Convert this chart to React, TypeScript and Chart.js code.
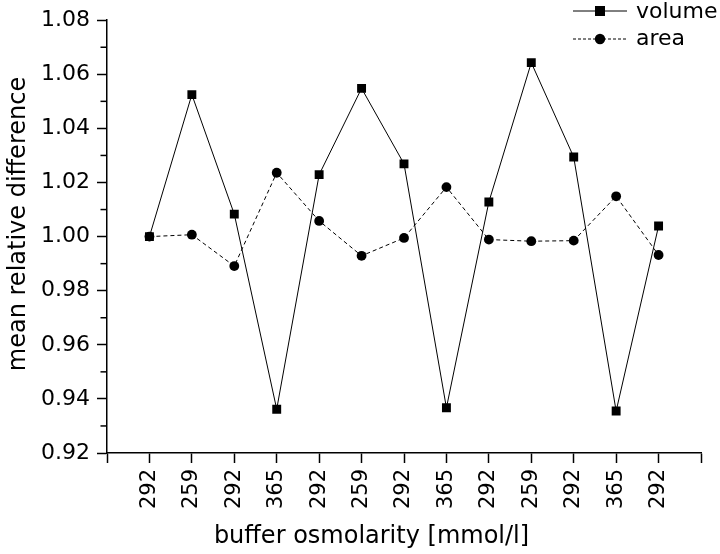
import React, { useEffect, useRef } from "react";
import { Chart, registerables } from "chart.js";

Chart.register(...registerables);

const categories = ["292", "259", "292", "365", "292", "259", "292", "365", "292", "259", "292", "365", "292"];
const volumeValues = [1.0, 1.0525, 1.0083, 0.9362, 1.0229, 1.0548, 1.0269, 0.9367, 1.0128, 1.0643, 1.0294, 0.9355, 1.0039];
const areaValues = [1.0, 1.0007, 0.9891, 1.0236, 1.0058, 0.9929, 0.9995, 1.0183, 0.9989, 0.9983, 0.9985, 1.0149, 0.9932];
const seriesNames = ["volume", "area"];
const yMin = 0.92;
const yMax = 1.08;
const xTitle = "buffer osmolarity [mmol/l]";
const yTitle = "mean relative difference";

const FONT = "'DejaVu Sans', 'Liberation Sans', sans-serif";

const isMajor = (v: number) => Math.round(v * 100) % 2 === 0;

const decorPlugin = {
  id: "decor",
  afterDraw(chart: any) {
    const ctx = chart.ctx as CanvasRenderingContext2D;
    const ys = chart.scales.y;
    const area = chart.chartArea;
    ctx.save();
    ctx.strokeStyle = "#000";
    ctx.lineWidth = 1.5;
    // minor ticks
    ys.ticks.forEach((t: any) => {
      if (!isMajor(t.value)) {
        const py = ys.getPixelForValue(t.value);
        ctx.beginPath();
        ctx.moveTo(area.left - 6.5, py);
        ctx.lineTo(area.left, py);
        ctx.stroke();
      }
    });
    // axis titles
    ctx.fillStyle = "#000";
    ctx.font = `24px ${FONT}`;
    ctx.textAlign = "center";
    ctx.textBaseline = "alphabetic";
    ctx.fillText(xTitle, 371.5, 543);
    ctx.save();
    ctx.translate(25, 224);
    ctx.rotate(-Math.PI / 2);
    ctx.fillText(yTitle, 0, 0);
    ctx.restore();

    // legend
    const rows = [
      { name: seriesNames[0], y: 11, dash: [] as number[], style: "rect", base: 18 },
      { name: seriesNames[1], y: 39, dash: [3, 2], style: "circle", base: 45 },
    ];
    rows.forEach((r) => {
      ctx.lineWidth = 1;
      ctx.setLineDash(r.dash);
      ctx.beginPath();
      ctx.moveTo(573, r.y);
      ctx.lineTo(627, r.y);
      ctx.stroke();
      ctx.setLineDash([]);
      ctx.beginPath();
      if (r.style === "rect") {
        ctx.rect(595, r.y - 5, 10, 10);
      } else {
        ctx.arc(600, r.y, 5.2, 0, Math.PI * 2);
      }
      ctx.fill();
      ctx.font = `22px ${FONT}`;
      ctx.textAlign = "left";
      ctx.textBaseline = "alphabetic";
      ctx.fillText(r.name, 636, r.base);
    });
    ctx.restore();
  },
};

export default function App() {
  const ref = useRef<HTMLCanvasElement | null>(null);

  useEffect(() => {
    if (!ref.current) return;
    const chart = new Chart(ref.current, {
      type: "line",
      data: {
        datasets: [
          {
            label: seriesNames[0],
            data: volumeValues.map((v, i) => ({ x: i + 1, y: v })),
            borderColor: "#000",
            backgroundColor: "#000",
            borderWidth: 1,
            pointStyle: "rect",
            pointRadius: 6.3,
            pointBorderWidth: 0,
            pointBackgroundColor: "#000",
            tension: 0,
          },
          {
            label: seriesNames[1],
            data: areaValues.map((v, i) => ({ x: i + 1, y: v })),
            borderColor: "#000",
            backgroundColor: "#000",
            borderWidth: 1,
            borderDash: [4, 3],
            pointStyle: "circle",
            pointRadius: 4.9,
            pointBorderWidth: 0,
            pointBackgroundColor: "#000",
            tension: 0,
          },
        ],
      },
      options: {
        animation: false,
        responsive: false,
        events: [],
        layout: { padding: { top: 19, right: 19, left: 0, bottom: 0 } },
        plugins: {
          legend: { display: false },
          tooltip: { enabled: false },
        },
        scales: {
          x: {
            type: "linear",
            min: 0,
            max: 14,
            afterFit: (s: any) => {
              s.height = 101;
              s.paddingLeft = 0;
              s.paddingRight = 0;
            },
            ticks: {
              stepSize: 1,
              autoSkip: false,
              maxRotation: 90,
              minRotation: 90,
              padding: 6,
              color: "#000",
              font: { family: FONT, size: 21 },
              callback: (v: any) => {
                const n = Number(v);
                return Number.isInteger(n) && n >= 1 && n <= categories.length ? categories[n - 1] : "";
              },
            },
            grid: {
              drawOnChartArea: false,
              drawTicks: true,
              tickLength: 10,
              tickColor: "#000",
              tickWidth: 1.5,
            },
            border: { display: true, color: "#000", width: 1.5 },
          },
          y: {
            type: "linear",
            min: yMin,
            max: yMax,
            afterFit: (s: any) => {
              s.width = 107;
            },
            ticks: {
              stepSize: 0.01,
              autoSkip: false,
              padding: 7,
              color: "#000",
              font: { family: FONT, size: 22 },
              callback: (v: any) => (isMajor(Number(v)) ? Number(v).toFixed(2) : ""),
            },
            grid: {
              drawOnChartArea: false,
              drawTicks: true,
              tickLength: 10,
              tickWidth: 1.5,
              tickColor: (c: any) => (c.tick && isMajor(c.tick.value) ? "#000" : "rgba(0,0,0,0)"),
            },
            border: { display: true, color: "#000", width: 1.5 },
          },
        },
      },
      plugins: [decorPlugin],
    });
    return () => chart.destroy();
  }, []);

  return (
    <div style={{ position: "absolute", left: 0, top: 0, width: 720, height: 554, background: "#fff" }}>
      <canvas ref={ref} width={720} height={554} style={{ width: 720, height: 554, display: "block" }} />
    </div>
  );
}
